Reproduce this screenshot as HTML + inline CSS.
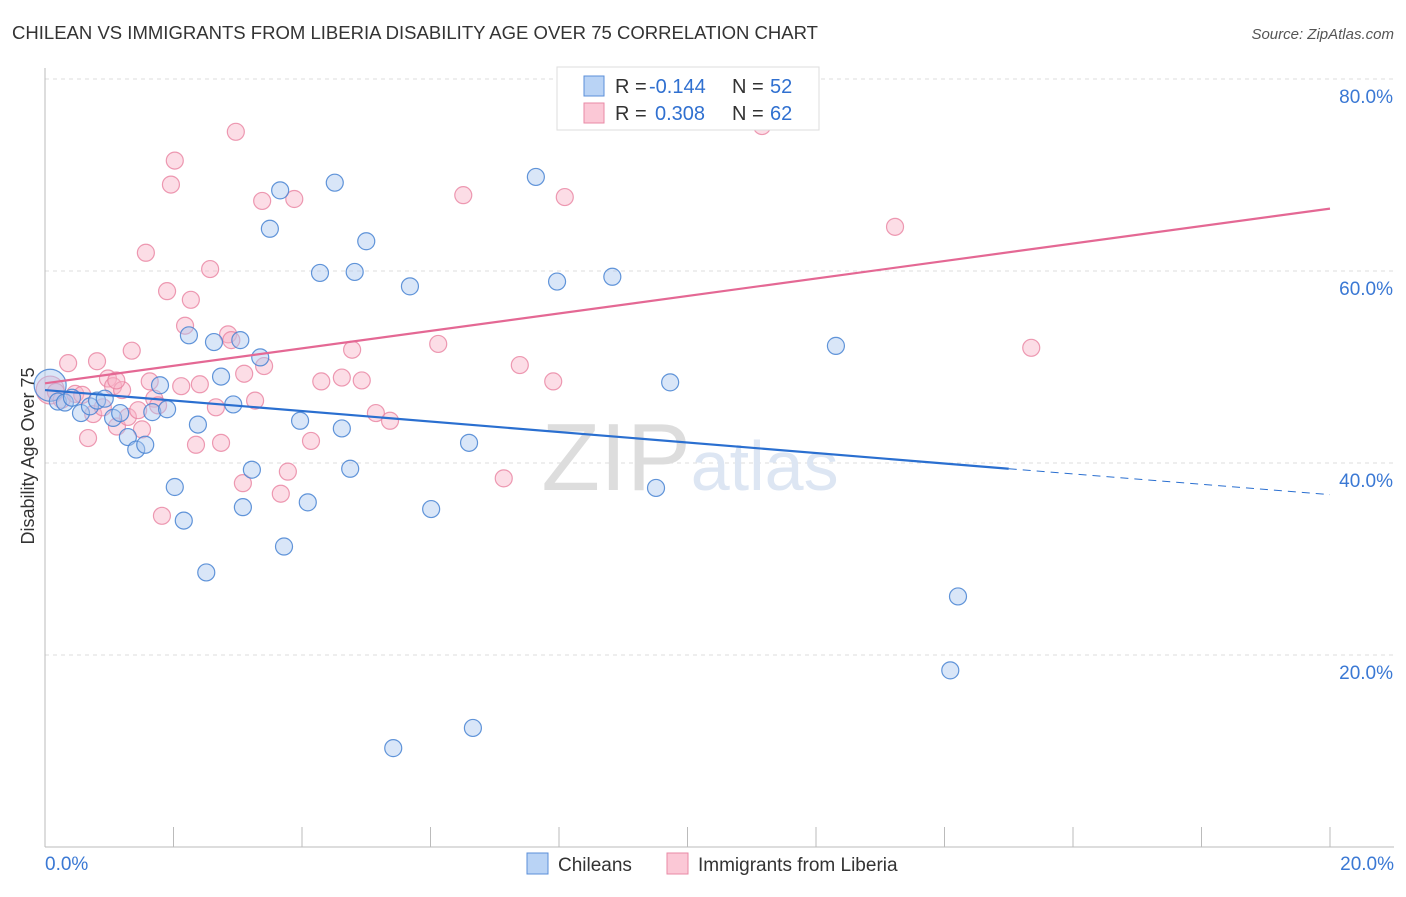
<!DOCTYPE html>
<html><head><meta charset="utf-8"><style>
body{margin:0;background:#fff;font-family:"Liberation Sans",sans-serif}
svg text{font-family:"Liberation Sans",sans-serif}
</style></head><body>
<svg id="c" width="1406" height="892">
<text x="12" y="39" font-size="18" textLength="806" lengthAdjust="spacingAndGlyphs" fill="#333">CHILEAN VS IMMIGRANTS FROM LIBERIA DISABILITY AGE OVER 75 CORRELATION CHART</text>
<text x="1394" y="39" font-size="15" fill="#555" text-anchor="end" font-style="italic">Source: ZipAtlas.com</text>
<g id="grid"></g>
<text x="690" y="490" font-size="96" fill="#ddd" text-anchor="middle" font-family="Liberation Serif">ZIP<tspan fill="#dde6f3" font-family="Liberation Sans" font-size="70">atlas</tspan></text>
<g id="pts"></g>
<g id="lines"></g>
<text transform="translate(34,456) rotate(-90)" font-size="18" fill="#333" text-anchor="middle">Disability Age Over 75</text>
<g>
<rect x="557" y="67" width="262" height="63" fill="#fff" stroke="#ddd"/>
<rect x="584" y="76" width="20" height="20" fill="#b9d3f5" stroke="#5b8fd9"/>
<rect x="584" y="103" width="20" height="20" fill="#fbc8d6" stroke="#e88aa6"/>
<text x="615" y="93" font-size="20" fill="#333">R =</text>
<text x="649" y="93" font-size="20" fill="#3070d0">-0.144</text>
<text x="732" y="93" font-size="20" fill="#333">N =</text>
<text x="770" y="93" font-size="20" fill="#3070d0">52</text>
<text x="615" y="120" font-size="20" fill="#333">R =</text>
<text x="655" y="120" font-size="20" fill="#3070d0">0.308</text>
<text x="732" y="120" font-size="20" fill="#333">N =</text>
<text x="770" y="120" font-size="20" fill="#3070d0">62</text>
</g>
<g>
<rect x="527" y="853" width="21" height="21" fill="#b9d3f5" stroke="#5b8fd9"/>
<text x="558" y="871" font-size="19" fill="#333">Chileans</text>
<rect x="667" y="853" width="21" height="21" fill="#fbc8d6" stroke="#e88aa6"/>
<text x="698" y="871" font-size="19" fill="#333">Immigrants from Liberia</text>
</g>
</svg>
<script>
const xTicks=["0.0%","20.0%"];
const yTickVals=[20,40,60,80];
const yTickLabels=["20.0%","40.0%","60.0%","80.0%"];
const blueX=[0.08,0.2,0.31,0.42,0.56,0.7,0.81,0.93,1.06,1.17,1.29,1.42,1.56,1.67,1.79,1.9,2.02,2.16,2.24,2.38,2.51,2.63,2.74,2.93,3.04,3.08,3.22,3.35,3.5,3.66,3.72,3.97,4.09,4.28,4.51,4.62,4.75,4.82,5.0,5.42,5.68,6.01,6.6,6.66,7.64,7.97,8.83,9.51,9.73,12.31,14.09,14.21];
const blueY=[48.1,46.4,46.3,46.8,45.2,45.9,46.5,46.7,44.7,45.2,42.7,41.4,41.9,45.3,48.1,45.6,37.5,34.0,53.3,44.0,28.6,52.6,49.0,46.1,52.8,35.4,39.3,51.0,64.4,68.4,31.3,44.4,35.9,59.8,69.2,43.6,39.4,59.9,63.1,10.3,58.4,35.2,42.1,12.4,69.8,58.9,59.4,37.4,48.4,52.2,18.4,26.1];
const pinkX=[0.08,0.17,0.26,0.36,0.47,0.58,0.67,0.75,0.81,0.9,0.98,1.06,1.12,1.2,1.29,1.35,1.45,1.51,1.57,1.7,1.76,1.82,1.9,1.96,2.02,2.12,2.18,2.27,2.35,2.41,2.57,2.66,2.74,2.85,2.9,2.97,3.08,3.1,3.27,3.38,3.41,3.67,3.78,3.88,4.14,4.3,4.62,4.78,4.93,5.15,5.37,6.12,6.51,7.14,7.39,7.91,8.09,11.16,13.23,15.35,1.63,1.11];
const pinkY=[47.6,47.4,46.6,50.4,47.2,47.1,42.6,45.1,50.6,45.8,48.8,48.0,43.8,47.6,44.8,51.7,45.5,43.5,61.9,46.7,46.0,34.5,57.9,69.0,71.5,48.0,54.3,57.0,41.9,48.2,60.2,45.8,42.1,53.4,52.8,74.5,37.9,49.3,46.5,67.3,50.1,36.8,39.1,67.5,42.3,48.5,48.9,51.8,48.6,45.2,44.4,52.4,67.9,38.4,50.2,48.5,67.7,75.1,64.6,52.0,48.5,48.6];
const ns="http://www.w3.org/2000/svg";
const X=v=>45+v*64.25, Y=v=>847-v*9.6;
function mk(t,a,p){const e=document.createElementNS(ns,t);for(const k in a)e.setAttribute(k,a[k]);p.appendChild(e);return e;}
const g=document.getElementById('grid');
yTickVals.forEach((v,i)=>{
 const l=mk('line',{x1:45,x2:1394,y1:Y(v),y2:Y(v),stroke:'#ddd','stroke-dasharray':'4,4'},g);
 
 
 const t=mk('text',{x:1393,y:Y(v)+24,'font-size':19,fill:'#3a78d4','text-anchor':'end'},g);
 t.textContent=yTickLabels[i];
 
 
});
mk('line',{x1:45,x2:45,y1:68,y2:847,stroke:'#bbb'},g);
mk('line',{x1:45,x2:1394,y1:847,y2:847,stroke:'#bbb'},g);
for(let i=0;i<=10;i++){const tk=mk('line',{x1:X(i*2),x2:X(i*2),y1:827,y2:847,stroke:'#bbb'},g);
 
 }
[[0,'start',45],[1,'end',1394]].forEach(([i,a,x])=>{const t=mk('text',{x:x,y:870,'font-size':19,fill:'#3a78d4','text-anchor':a},g);t.textContent=xTicks[i];
 
 });
const p=document.getElementById('pts');
pinkX.forEach((v,i)=>{const c=mk('circle',{cx:X(v),cy:Y(pinkY[i]),r:i==0?14:8.5,fill:'rgba(248,180,200,0.45)',stroke:'rgba(232,130,160,0.8)','stroke-width':1.2},p);
 
 });
blueX.forEach((v,i)=>{const c=mk('circle',{cx:X(v),cy:Y(blueY[i]),r:i==0?16:8.5,fill:'rgba(170,200,240,0.45)',stroke:'rgba(70,130,210,0.85)','stroke-width':1.2},p);
 
 });
const L=document.getElementById('lines');
const bl=mk('line',{x1:X(0),y1:Y(47.6),x2:X(15),y2:Y(39.4),stroke:'#2a6fd0','stroke-width':2.2},L);


mk('line',{x1:X(15),y1:Y(39.4),x2:X(20),y2:Y(36.7),stroke:'#2a6fd0','stroke-width':1,'stroke-dasharray':'8,6'},L);
const pl=mk('line',{x1:X(0),y1:Y(48.3),x2:X(20),y2:Y(66.5),stroke:'#e46894','stroke-width':2.2},L);


</script>
</body></html>
